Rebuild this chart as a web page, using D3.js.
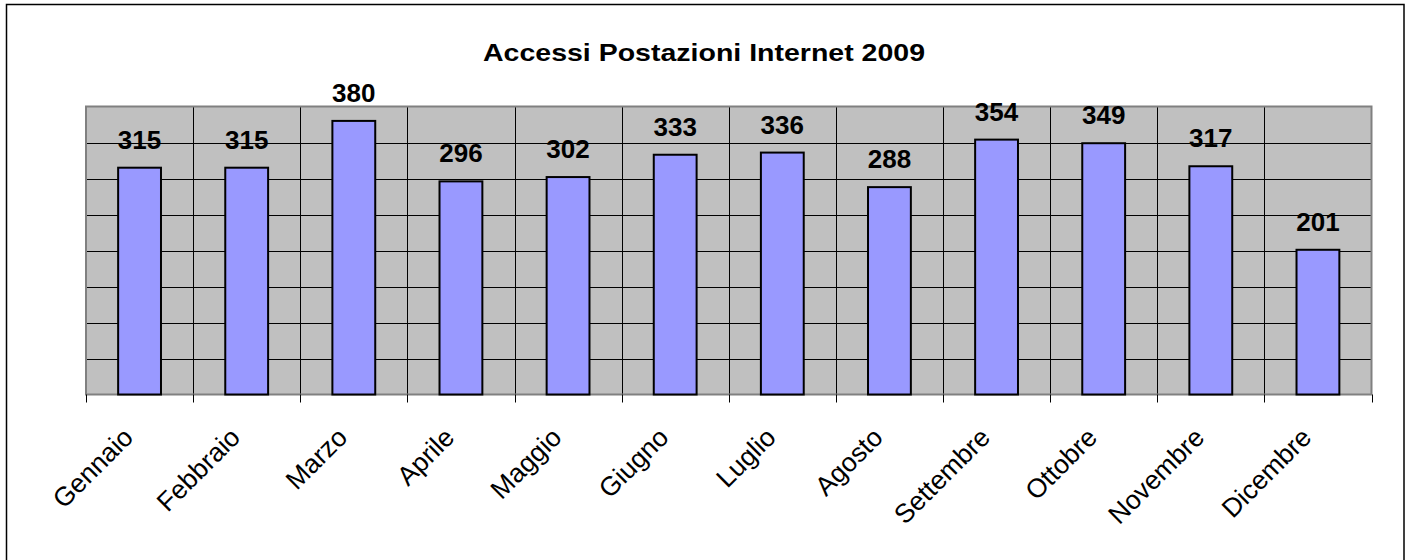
<!DOCTYPE html>
<html>
<head>
<meta charset="utf-8">
<script src="https://cdn.jsdelivr.net/npm/d3@7/dist/d3.min.js"></script>
<style>
  html, body { margin: 0; padding: 0; background: #fff; }
  svg { display: block; font-family: Arial, "Liberation Sans", sans-serif; }
</style>
</head>
<body>
<svg id="chart" width="1413" height="560"></svg>
<script>
const title = "Accessi Postazioni Internet 2009";
const months = ["Gennaio","Febbraio","Marzo","Aprile","Maggio","Giugno","Luglio","Agosto","Settembre","Ottobre","Novembre","Dicembre"];
const accessi = [315, 315, 380, 296, 302, 333, 336, 288, 354, 349, 317, 201];
const yTicks = [0, 50, 100, 150, 200, 250, 300, 350, 400];

const svg = d3.select("#chart");

// outer chart border
svg.append("rect")
  .attr("x", 6.5).attr("y", 4.5)
  .attr("width", 1397.5).attr("height", 560)
  .attr("fill", "#fff").attr("stroke", "#000").attr("stroke-width", 1.5);

const plot = { left: 86, right: 1371.5, top: 106.5, bottom: 394.5 };

const x = d3.scaleBand()
  .domain(months)
  .range([plot.left, plot.right])
  .paddingInner(0.6)
  .paddingOuter(0.3);
const step = x.step();

const y = d3.scaleLinear()
  .domain([0, 400])
  .range([plot.bottom, plot.top]);

// plot background
svg.append("rect")
  .attr("x", plot.left).attr("y", plot.top)
  .attr("width", plot.right - plot.left).attr("height", plot.bottom - plot.top)
  .attr("fill", "#C0C0C0");

// horizontal gridlines
svg.append("g").selectAll("line")
  .data(yTicks.slice(1, -1))
  .join("line")
  .attr("x1", plot.left).attr("x2", plot.right)
  .attr("y1", d => Math.round(y(d)) + 0.5).attr("y2", d => Math.round(y(d)) + 0.5)
  .attr("stroke", "#000").attr("stroke-width", 1);

// vertical gridlines at category boundaries
const bounds = d3.range(1, months.length).map(i => plot.left + i * step);
svg.append("g").selectAll("line")
  .data(bounds)
  .join("line")
  .attr("x1", d => Math.round(d) + 0.5).attr("x2", d => Math.round(d) + 0.5)
  .attr("y1", plot.top).attr("y2", plot.bottom)
  .attr("stroke", "#000").attr("stroke-width", 1);

// plot border
svg.append("rect")
  .attr("x", plot.left).attr("y", plot.top)
  .attr("width", plot.right - plot.left).attr("height", plot.bottom - plot.top)
  .attr("fill", "none").attr("stroke", "#808080").attr("stroke-width", 2);

// bars
svg.append("g").selectAll("rect")
  .data(months)
  .join("rect")
  .attr("x", d => x(d))
  .attr("y", (d, i) => y(accessi[i]))
  .attr("width", x.bandwidth())
  .attr("height", (d, i) => y(0) - y(accessi[i]))
  .attr("fill", "#9999FF")
  .attr("stroke", "#000")
  .attr("stroke-width", 2);

// value labels
svg.append("g").selectAll("text")
  .data(months)
  .join("text")
  .attr("x", d => x(d) + x.bandwidth() / 2)
  .attr("y", (d, i) => y(accessi[i]) - 19)
  .attr("text-anchor", "middle")
  .attr("font-size", 26)
  .attr("font-weight", "bold")
  .attr("fill", "#000")
  .text((d, i) => accessi[i]);

// x axis ticks
const tickPos = d3.range(0, months.length + 1).map(i => plot.left + i * step);
svg.append("g").selectAll("line")
  .data(tickPos)
  .join("line")
  .attr("x1", d => Math.round(d) + 0.5).attr("x2", d => Math.round(d) + 0.5)
  .attr("y1", plot.bottom).attr("y2", plot.bottom + 8)
  .attr("stroke", "#000").attr("stroke-width", 1);

// x axis labels
svg.append("g").selectAll("text")
  .data(months)
  .join("text")
  .attr("transform", d => `translate(${x(d) + x.bandwidth() / 2 - 5},${439}) rotate(-45)`)
  .attr("text-anchor", "end")
  .attr("font-size", 26.5)
  .attr("fill", "#000")
  .text(d => d);

// title
svg.append("text")
  .attr("x", 704)
  .attr("y", 61)
  .attr("text-anchor", "middle")
  .attr("font-size", 24.5)
  .attr("font-weight", "bold")
  .attr("textLength", 442)
  .attr("lengthAdjust", "spacingAndGlyphs")
  .text(title);
</script>
</body>
</html>
